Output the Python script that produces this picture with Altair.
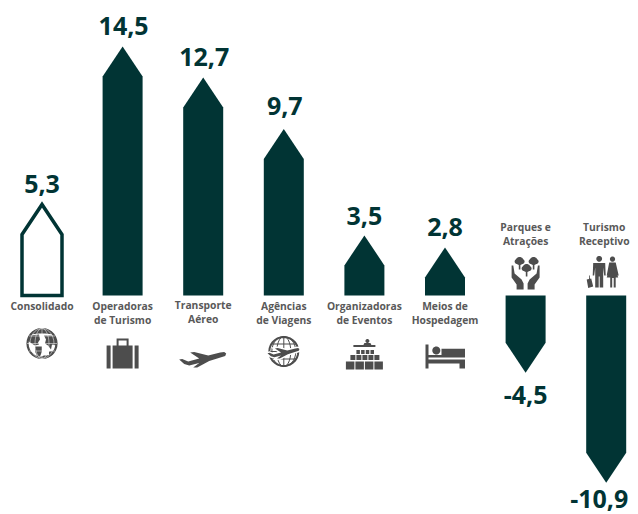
import math
import altair as alt
import pandas as pd

CATEGORIES = ["Consolidado", "Operadoras de Turismo", "Transporte Aéreo", "Agências de Viagens",
              "Organizadoras de Eventos", "Meios de Hospedagem", "Parques e Atrações", "Turismo Receptivo"]
VALUES = [5.3, 14.5, 12.7, 9.7, 3.5, 2.8, -4.5, -10.9]
VALUE_TEXT = ["5,3", "14,5", "12,7", "9,7", "3,5", "2,8", "-4,5", "-10,9"]
LABEL_LINES = [["Consolidado"], ["Operadoras", "de Turismo"], ["Transporte", "Aéreo"], ["Agências", "de Viagens"],
               ["Organizadoras", "de Eventos"], ["Meios de", "Hospedagem"], ["Parques e", "Atrações"], ["Turismo", "Receptivo"]]

DARK = "#013434"
GREY = "#595959"
ICON = "#4d4d4d"
FONT = "Open Sans"

W, H = 622, 506
PX_PER_UNIT = 17.17
ZERO_PX = 287.5
X0_PX, STEP_PX = 34.0, 80.6
HALF_W = 20 / STEP_PX
HEAD = 30 / PX_PER_UNIT

x_scale = alt.Scale(domain=[-X0_PX / STEP_PX, (W - X0_PX) / STEP_PX], nice=False, zero=False)
y_scale = alt.Scale(domain=[(ZERO_PX - H) / PX_PER_UNIT, ZERO_PX / PX_PER_UNIT], nice=False, zero=False)
X = lambda f="i": alt.X(f"{f}:Q", scale=x_scale, axis=None)
Y = lambda f="v": alt.Y(f"{f}:Q", scale=y_scale, axis=None)

# pentagon arrows
rows = []
for i, v in enumerate(VALUES):
    s = 1 if v > 0 else -1
    shoulder = v - s * HEAD
    for dx, top in ((-HALF_W, shoulder), (0, v), (HALF_W, shoulder)):
        rows.append(dict(cat=CATEGORIES[i], i=i + dx, v=top, base=0, outline=i == 0))
arrows = pd.DataFrame(rows)


def arrow_layer(df, **kw):
    return alt.Chart(df).mark_area(orient="vertical", **kw).encode(
        x=X(), y=Y(), y2=alt.Y2("base:Q"), detail="cat:N")


solid = arrow_layer(arrows[~arrows.outline], color=DARK)
hollow = arrow_layer(arrows[arrows.outline], fill="white", stroke=DARK, strokeWidth=3.5, strokeJoin="miter")

# value labels
VALUE_GAP_PX = [19, 20, 19, 22, 18, 19, 23, 17]
VALUE_SHIFT_PX = [0, 1, 1, 1, 0, 0, 0, -7]
vals = pd.DataFrame([dict(i=i + d / STEP_PX, v=v + (1 if v > 0 else -1) * g / PX_PER_UNIT, t=t)
                     for i, (v, t, g, d) in enumerate(zip(VALUES, VALUE_TEXT, VALUE_GAP_PX, VALUE_SHIFT_PX))])
value_text = alt.Chart(vals).mark_text(font=FONT, fontWeight="bold", fontSize=25, color=DARK,
                                       baseline="middle", align="center").encode(x=X(), y=Y(), text="t:N")

# category labels (offset from the zero line, in px; first line)
LABEL_FIRST_PX = [11, 11, 10, 11, 11, 11, -68, -68]
LABEL_SHIFT_PX = [0, 0, 0, 0, 0, 0, 0, -2]
LINE_STEP_PX = 14
lab = []
for i, (lines, o, d) in enumerate(zip(LABEL_LINES, LABEL_FIRST_PX, LABEL_SHIFT_PX)):
    for k, line in enumerate(lines):
        lab.append(dict(i=i + d / STEP_PX, v=-(o + k * LINE_STEP_PX) / PX_PER_UNIT, t=line))
cat_text = alt.Chart(pd.DataFrame(lab)).mark_text(font=FONT, fontWeight="bold", fontSize=10.3, color=GREY,
                                                  baseline="middle", align="center").encode(x=X(), y=Y(), text="t:N")

# ---- icon shapes, drawn in px around the icon anchor; unit = 20px
U = 20.0


def poly(pts):
    return "M" + "L".join(f"{x / U:.4f},{y / U:.4f}" for x, y in pts) + "Z"


def open_poly(pts):
    return "M" + "L".join(f"{x / U:.4f},{y / U:.4f}" for x, y in pts)


def rect(x0, y0, x1, y1):
    return poly([(x0, y0), (x1, y0), (x1, y1), (x0, y1)])


def rect_rev(x0, y0, x1, y1):
    return poly([(x0, y0), (x0, y1), (x1, y1), (x1, y0)])


def circ(cx, cy, r, n=28):
    return poly([(cx + r * math.cos(2 * math.pi * k / n), cy + r * math.sin(2 * math.pi * k / n)) for k in range(n)])


def ell_open(cx, cy, rx, ry, n=28):
    return open_poly([(cx + rx * math.cos(2 * math.pi * k / n), cy + ry * math.sin(2 * math.pi * k / n)) for k in range(n + 1)])


def shift(pts, dx, dy, s=1.0):
    return [(x * s + dx, y * s + dy) for x, y in pts]


PLANE = [(23, -5), (22, -2.5), (6, 2.5), (-6, 9), (-10, 9), (-4, 4.5), (-14, 7), (-19, 5.5), (-24, 1), (-21, 0.5),
         (-15, 3), (-4, 0), (-13, -6), (-9, -6.5), (5, -3), (17, -6), (21, -6.5)]

GLOBE_GRID = (ell_open(0, 0, 7, 15) + ell_open(0, 0, 12, 15) +
              open_poly([(0, -15), (0, 15)]) + open_poly([(-15, 0), (15, 0)]) +
              open_poly([(-13, -7.5), (13, -7.5)]) + open_poly([(-13, 7.5), (13, 7.5)]))
GLOBE_OUT = ell_open(0, 0, 14.5, 14.5)
LAND = (poly([(-12, -9), (-7, -13), (0, -15), (7, -13), (12, -9), (3, -10), (-3, -10)]) +
        poly([(-13, -8), (-3, -9), (-2, -4), (-4, -1), (-3, 1), (-7, 2), (-12, -1), (-14, -3)]) +
        poly([(-7, 3), (0, 3), (0, 8), (-2, 13), (-5, 12), (-7, 8)]) +
        poly([(2, -8), (12, -8), (14, -3), (14, 2), (10, 1), (9, 6), (6, 2), (3, 0), (4, -4)]) +
        poly([(7, 8), (12, 7), (11, 11), (7, 12)]) +
        poly([(-10, 11), (-5, 14), (0, 15), (5, 14), (9, 12), (2, 12), (-3, 14)]))

SUITCASE = (rect(-16, -8, -12, 15) + rect(-10, -8, 10, 15) + rect(12, -8, 16, 15) +
            rect(-6, -15, 6, -8) + rect_rev(-4, -13, 4, -8))

AUDIENCE = rect(-11, -8.5, 11, -6.5) + circ(3, -12.5, 2) + poly([(-1, -8.5), (0, -10.5), (6, -10.5), (7, -8.5)])
for k in range(4):
    AUDIENCE += rect(-8 + k * 4.7, -3.5, -4.5 + k * 4.7, 0.5)
for k in range(5):
    AUDIENCE += rect(-14 + k * 6, 1.5, -9 + k * 6, 6.5)
for k in range(4):
    AUDIENCE += rect(-18.5 + k * 9.5, 8, -10 + k * 9.5, 16)

BED = (rect(-19.5, -7, -16.5, 17) + circ(-8.7, -1, 4) + rect(-3.5, -2.7, 20, 6) + rect(-16.5, 3.5, -3.5, 6) +
       rect(-16.5, 8, 20, 12) + rect(14.5, 12, 20, 17))

left_hand = [(-14, -6), (-12.3, -6), (-11, 2), (-4, 8), (-2, 12), (-2, 18), (-9, 18), (-9, 13), (-14, 6)]
HANDS = (poly(left_hand) + poly([(-x, y) for x, y in reversed(left_hand)]) +
         circ(-6, -10.5, 4) + circ(-8.5, -10, 2.5) + circ(-3.5, -10, 2.5) +
         circ(8, -10.5, 4) + circ(5.5, -10, 2.5) + circ(10.5, -10, 2.5) +
         circ(1, -3.5, 4) + circ(-1.5, -3, 2.5) + circ(3.5, -3, 2.5) +
         rect(-6.8, -8, -5.2, -2) + rect(7.2, -8, 8.8, -2) + rect(0.2, -1, 1.8, 5))

PEOPLE = (circ(-7, -13.7, 2.9) + circ(6.3, -13.4, 2.6) +
          poly([(-13, -9.5), (-1, -9.5), (-0.5, 3), (-2, 3), (-3, -5), (-3, 15), (-6.5, 15), (-6.5, 4), (-7.5, 4),
                (-7.5, 15), (-11, 15), (-11, -5), (-12, 3), (-13.5, 3)]) +
          poly([(3, -10), (9.5, -10), (12.5, 3), (10.5, 3), (9.5, -2), (12, 5), (9.5, 5), (9.5, 15), (7.5, 15),
                (7.5, 5.5), (6, 5.5), (6, 15), (4, 15), (4, 5), (0.5, 5), (3, -2), (2, 3), (0.5, 3)]) +
          poly([(-19.5, 7), (-15, 6), (-13, 14), (-18, 15.5)]) + rect(-17, 3, -16.2, 7))

ICON_AT = {  # category index -> anchor offset from the zero line (px, + is down)
    0: 48, 1: 58, 2: 63, 3: 56, 4: 58, 5: 56, 6: -24, 7: -23}
WHITE = "#ffffff"
MINI_PLANE = poly(shift(PLANE, 0, 1, 0.68))
ICON_SHAPES = [
    (0, LAND, True, 0, ICON), (0, GLOBE_OUT, False, 2.2, ICON), (0, GLOBE_GRID, False, 0.5, WHITE),
    (1, SUITCASE, True, 0, ICON),
    (2, poly(PLANE), True, 0, ICON),
    (3, GLOBE_GRID, False, 1.0, ICON), (3, GLOBE_OUT, False, 2.0, ICON),
    (3, MINI_PLANE, False, 3.0, WHITE), (3, MINI_PLANE, True, 0, ICON),
    (4, AUDIENCE, True, 0, ICON),
    (5, BED, True, 0, ICON),
    (6, HANDS, True, 0, ICON),
    (7, PEOPLE, True, 0, ICON),
]


def icon_layer(i, path, filled, sw, color):
    df = pd.DataFrame([dict(i=i, v=-ICON_AT[i] / PX_PER_UNIT)])
    kw = dict(shape=path, size=(2 * U) ** 2, filled=filled, opacity=1)
    if filled:
        kw.update(fill=color, strokeWidth=0)
    else:
        kw.update(stroke=color, strokeWidth=sw, fillOpacity=0)
    return alt.Chart(df).mark_point(**kw).encode(x=X(), y=Y())


icons = [icon_layer(*s) for s in ICON_SHAPES]

chart = alt.layer(solid, hollow, value_text, cat_text, *icons).properties(
    width=W, height=H, padding=0, autosize=alt.AutoSizeParams(type="none"),
    background="white"
).configure_view(stroke=None)

chart.save("out.html", embed_options={"renderer": "svg", "actions": False})
